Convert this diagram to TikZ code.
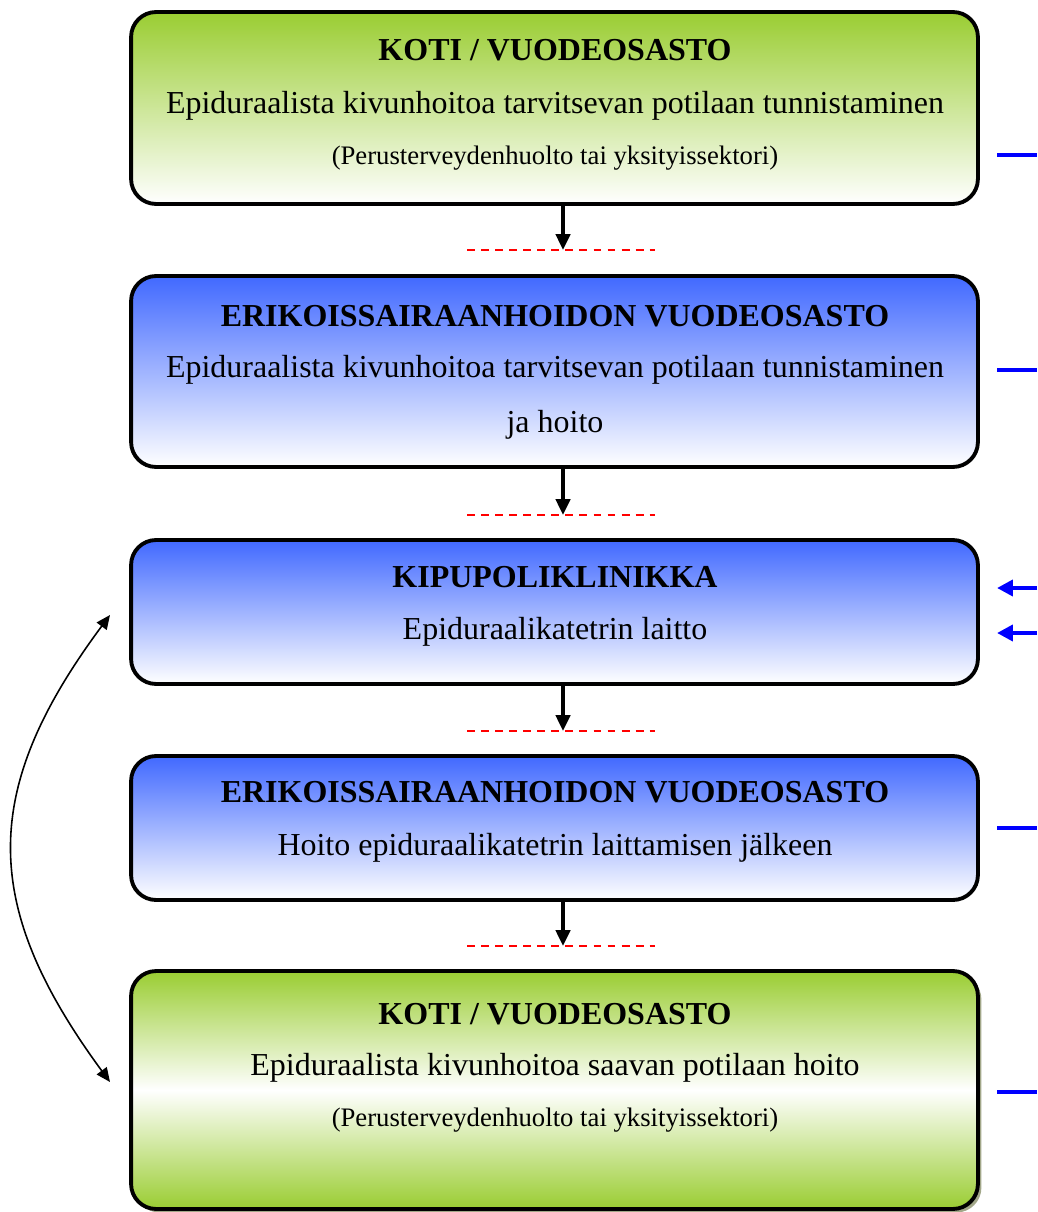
\documentclass[tikz,border=0pt]{standalone}
\usepackage{fontspec}
\setmainfont{Liberation Serif}
\usepackage{tikz}
\usetikzlibrary{arrows.meta, shadows}

\definecolor{GrassGreen}{RGB}{154,205,50}
\definecolor{RoyalBlu}{RGB}{65,105,255}
\definecolor{DarkOlive}{RGB}{70,80,20}

\begin{document}
\begin{tikzpicture}[x=0.02cm, y=-0.02cm,
  greenbox/.style={rectangle, rounded corners=0.5cm, draw=black, line width=2.2pt,
    top color=GrassGreen, bottom color=white, minimum width=16.94cm},
  %
  bluebox/.style={rectangle, rounded corners=0.5cm, draw=black, line width=2.2pt,
    top color=RoyalBlu, bottom color=white, minimum width=16.94cm},
  %
  title/.style={font=\fontsize{18.2}{22}\selectfont\bfseries},
  %
  body/.style={font=\fontsize{18.2}{22}\selectfont},
  %
  small/.style={font=\fontsize{15.2}{18}\selectfont},
  %
  flow/.style={-{Triangle[length=9pt, width=8pt]}, line width=2.2pt},
  %
  gap/.style={red, line width=1.3pt, dash pattern=on 4.5pt off 3.5pt},
  %
  feed/.style={blue, line width=2.4pt}
  ]

  \useasboundingbox (0,0) rectangle (1037,1212);

  \begin{scope}
    %%%%%%%%%%%%%%%%%%%%%%%%%%%%%%%
    \node [greenbox, minimum height=3.84cm] (koti) at (554.5,108) {};
    \node [title] (kotiT) at (555,50) {KOTI / VUODEOSASTO};
    \node [body] (kotiB) at (555,106)
      {Epiduraalista kivunhoitoa tarvitsevan potilaan tunnistaminen};
    \node [small] (kotiS) at (555,158) {(Perusterveydenhuolto tai yksityissektori)};
    %%%%%%%%%%%%%%%%%%%%%%%%%%%%%%%
    \node [bluebox, minimum height=3.82cm] (erik) at (554.5,371.5) {};
    \node [title] (erikT) at (555,316) {ERIKOISSAIRAANHOIDON VUODEOSASTO};
    \node [body] (erikB) at (555,370)
      {Epiduraalista kivunhoitoa tarvitsevan potilaan tunnistaminen};
    \node [body] (erikC) at (555,425) {ja hoito};
    %%%%%%%%%%%%%%%%%%%%%%%%%%%%%%%
    \node [bluebox, minimum height=2.88cm] (kipu) at (554.5,612) {};
    \node [title] (kipuT) at (555,577) {KIPUPOLIKLINIKKA};
    \node [body] (kipuB) at (555,632) {Epiduraalikatetrin laitto};
    %%%%%%%%%%%%%%%%%%%%%%%%%%%%%%%
    \node [bluebox, minimum height=2.88cm] (jalk) at (554.5,828) {};
    \node [title] (jalkT) at (555,792) {ERIKOISSAIRAANHOIDON VUODEOSASTO};
    \node [body] (jalkB) at (555,848) {Hoito epiduraalikatetrin laittamisen jälkeen};
    %%%%%%%%%%%%%%%%%%%%%%%%%%%%%%%
    \node [greenbox, minimum height=4.76cm, bottom color=GrassGreen, middle color=white,
      drop shadow={shadow xshift=2pt, shadow yshift=-2pt, fill=DarkOlive}]
      (koti2) at (554.5,1090) {};
    \node [title] (koti2T) at (555,1014) {KOTI / VUODEOSASTO};
    \node [body] (koti2B) at (555,1068) {Epiduraalista kivunhoitoa saavan potilaan hoito};
    \node [small] (koti2S) at (555,1120) {(Perusterveydenhuolto tai yksityissektori)};
  \end{scope}

  \begin{scope}
    % down arrows and the red gaps under them
    \foreach \from/\y in {koti/250, erik/515, kipu/731, jalk/946} {
      \coordinate (gap-\from) at (563,\y);
      \draw [flow] (\from.south -| gap-\from) -- (gap-\from);
      \draw [gap] (467,\y) -- (655,\y);
    }

    % lines out to the right edge
    \foreach \name/\y in {a/155, b/370, c/828, d/1092} {
      \coordinate (out-\name) at (997,\y);
      \coordinate (edge-\name) at (1037,\y);
      \draw [feed] (out-\name) -- (edge-\name);
    }
    \foreach \name/\y in {e/588, f/633} {
      \coordinate (in-\name) at (997,\y);
      \coordinate (edge-\name) at (1037,\y);
      \draw [feed, -{Triangle[length=9pt, width=9pt]}] (edge-\name) -- (in-\name);
    }

    % back and forth between the clinic and home
    \coordinate (upEnd) at (110,615);
    \coordinate (downEnd) at (110,1082);
    \draw [{Triangle[length=8pt, width=7pt]}-{Triangle[length=8pt, width=7pt]},
      line width=0.9pt]
      (upEnd) .. controls (-20,790) and (-20,905) .. (downEnd);
  \end{scope}

\end{tikzpicture}
\end{document}
